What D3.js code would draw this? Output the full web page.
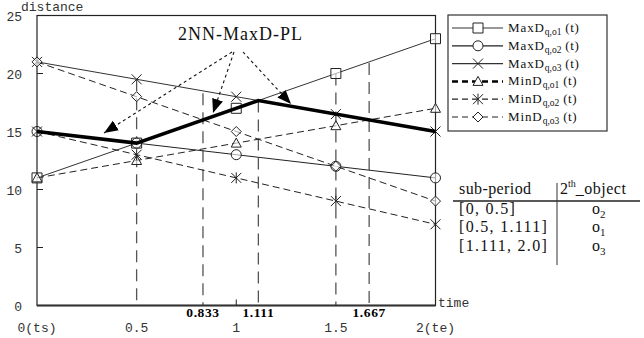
<!doctype html>
<meta charset="utf-8" />
<style>
  body { margin: 0; background: #fff; }
  text { font-family: "Liberation Serif", "Times New Roman", serif; }
  .mono { font-family: "Liberation Mono", "DejaVu Sans Mono", monospace; }
</style>
<svg></svg>

<script src="https://cdn.jsdelivr.net/npm/d3@7"></script>

<script>
    // data
    var times = [0, 0.5, 1, 1.5, 2];
    var maxO1 = [11, 14, 17, 20, 23];
    var maxO2 = [15, 14, 13, 12, 11];
    var maxO3 = [21, 19.5, 18, 16.5, 15];
    var minO1 = [11, 12.5, 14, 15.5, 17];
    var minO2 = [15, 13, 11, 9, 7];
    var minO3 = [21, 18, 15, 12, 9];

    var plTimes = [0, 0.5, 1.111, 2];
    var plValues = [15, 14, 17.67, 15];

    var splitTimes = [0.5, 0.833, 1.111, 1.5, 1.667];
    var splitTops = [19.5, 18.3, 17.67, 20, 20.9];
    var splitLabels = ['', '0.833', '1.111', '', '1.667'];

    var yTicks = [0, 5, 10, 15, 20, 25];
    var xTicks = [0, 0.5, 1, 1.5, 2];
    var xTickLabels = ['0(ts)', '0.5', '1', '1.5', '2(te)'];

    var subPeriods = ['[0, 0.5]', '[0.5, 1.111]', '[1.111, 2.0]'];
    var subObjects = ['2', '1', '3'];

    var series = [
        { name: 'MaxD', sub: 'q,o1', vals: maxO1, mark: 'square', dash: null, color: '#333', width: 1 },
        { name: 'MaxD', sub: 'q,o2', vals: maxO2, mark: 'circle', dash: null, color: '#222', width: 1 },
        { name: 'MaxD', sub: 'q,o3', vals: maxO3, mark: 'x', dash: null, color: '#333', width: 1 },
        { name: 'MinD', sub: 'q,o1', vals: minO1, mark: 'triangle', dash: '7,4', color: '#222', width: 1 },
        { name: 'MinD', sub: 'q,o2', vals: minO2, mark: 'star', dash: '7,4', color: '#222', width: 1 },
        { name: 'MinD', sub: 'q,o3', vals: minO3, mark: 'diamond', dash: '7,4', color: '#222', width: 1 }
    ];

    var W = 644, H = 338;
    var svg = d3.select('svg').attr('width', W).attr('height', H);

    var x = d3.scaleLinear().domain([0, 2]).range([37, 435.5]);
    var y = d3.scaleLinear().domain([0, 25]).range([305.5, 15.5]);

    function markPath(kind, s) {
        var p = d3.path();
        if (kind === 'square') {
            p.rect(-s, -s, 2 * s, 2 * s);
        } else if (kind === 'circle') {
            p.moveTo(s, 0); p.arc(0, 0, s, 0, 2 * Math.PI);
        } else if (kind === 'x') {
            p.moveTo(-s, -s); p.lineTo(s, s); p.moveTo(-s, s); p.lineTo(s, -s);
        } else if (kind === 'star') {
            p.moveTo(-s, -s); p.lineTo(s, s); p.moveTo(-s, s); p.lineTo(s, -s);
            p.moveTo(0, -s * 1.1); p.lineTo(0, s * 1.1);
        } else if (kind === 'triangle') {
            p.moveTo(0, -s); p.lineTo(s, s * 0.8); p.lineTo(-s, s * 0.8); p.closePath();
        } else if (kind === 'diamond') {
            p.moveTo(0, -s); p.lineTo(s, 0); p.lineTo(0, s); p.lineTo(-s, 0); p.closePath();
        }
        return p.toString();
    }

    // split lines (vertical dashed)
    svg.append('g').selectAll('line').data(splitTimes).join('line')
        .attr('x1', d => x(d)).attr('x2', d => x(d))
        .attr('y1', (d, i) => y(splitTops[i])).attr('y2', y(0))
        .attr('stroke', '#555').attr('stroke-width', 1.3)
        .attr('stroke-dasharray', '12,7');

    // frame
    svg.append('rect')
        .attr('x', x(0)).attr('y', y(25))
        .attr('width', x(2) - x(0)).attr('height', y(0) - y(25))
        .attr('fill', 'none').attr('stroke', '#222').attr('stroke-width', 1.2);
    svg.append('line')
        .attr('x1', x(0)).attr('x2', x(2)).attr('y1', y(0)).attr('y2', y(0))
        .attr('stroke', '#333').attr('stroke-width', 2);

    // y ticks
    svg.append('g').selectAll('line').data(yTicks.slice(1, 5)).join('line')
        .attr('x1', x(0)).attr('x2', x(0) + 6)
        .attr('y1', d => y(d)).attr('y2', d => y(d))
        .attr('stroke', '#222');
    svg.append('g').selectAll('text').data(yTicks).join('text')
        .attr('class', 'mono')
        .attr('x', 22).attr('y', d => y(d) + 5)
        .attr('text-anchor', 'end').attr('font-size', 13).attr('fill', '#333')
        .text(d => d);
    svg.append('text').attr('class', 'mono')
        .attr('x', 21).attr('y', 11).attr('font-size', 13).attr('fill', '#333')
        .text('distance');

    // x tick at 1
    svg.append('line')
        .attr('x1', x(1)).attr('x2', x(1)).attr('y1', y(0)).attr('y2', y(0) - 6)
        .attr('stroke', '#222');
    svg.append('g').selectAll('text').data(xTicks).join('text')
        .attr('class', 'mono')
        .attr('x', d => x(d)).attr('y', 332)
        .attr('text-anchor', 'middle').attr('font-size', 13).attr('fill', '#333')
        .text((d, i) => xTickLabels[i]);
    svg.append('text').attr('class', 'mono')
        .attr('x', 438).attr('y', 307).attr('font-size', 13).attr('fill', '#333')
        .text('time');
    svg.append('g').selectAll('text').data(splitTimes).join('text')
        .attr('x', d => x(d)).attr('y', 317)
        .attr('text-anchor', 'middle').attr('font-size', 13.5).attr('font-weight', 'bold')
        .attr('letter-spacing', 0.6)
        .text((d, i) => splitLabels[i]);

    // series lines and markers
    var line = d3.line().x((d, i) => x(times[i])).y(d => y(d));
    series.forEach(function (s) {
        svg.append('path')
            .attr('d', line(s.vals))
            .attr('fill', 'none').attr('stroke', s.color).attr('stroke-width', s.width)
            .attr('stroke-dasharray', s.dash);
        svg.append('g').selectAll('path').data(s.vals).join('path')
            .attr('transform', (d, i) => 'translate(' + x(times[i]) + ',' + y(d) + ')')
            .attr('d', markPath(s.mark, 5))
            .attr('fill', 'white').attr('fill-opacity', s.mark === 'x' || s.mark === 'star' ? 0 : 0.6)
            .attr('stroke', '#222').attr('stroke-width', 1);
    });

    // 2NN-MaxD-PL
    svg.append('path')
        .attr('d', d3.line().x((d, i) => x(plTimes[i])).y(d => y(d))(plValues))
        .attr('fill', 'none').attr('stroke', '#000').attr('stroke-width', 3.5)
        .attr('stroke-linejoin', 'miter');

    svg.append('text')
        .attr('x', 178).attr('y', 40).attr('font-size', 18).attr('fill', '#111')
        .attr('textLength', 124)
        .text('2NN-MaxD-PL');

    // dotted arrows
    var defs = svg.append('defs');
    defs.append('marker').attr('id', 'ah')
        .attr('viewBox', '0 0 10 10').attr('refX', 10).attr('refY', 5)
        .attr('markerWidth', 14).attr('markerHeight', 14)
        .attr('markerUnits', 'userSpaceOnUse').attr('orient', 'auto')
        .append('path').attr('d', 'M0,1L10,5L0,9Z').attr('fill', '#000');
    var arrows = [[232, 52, 104, 133], [234, 52, 213, 113], [243, 52, 291, 104]];
    svg.append('g').selectAll('line').data(arrows).join('line')
        .attr('x1', d => d[0]).attr('y1', d => d[1]).attr('x2', d => d[2]).attr('y2', d => d[3])
        .attr('stroke', '#111').attr('stroke-width', 1.1).attr('stroke-dasharray', '3,3')
        .attr('marker-end', 'url(#ah)');

    // legend
    var lg = svg.append('g');
    lg.append('rect').attr('x', 448).attr('y', 15).attr('width', 159).attr('height', 116)
        .attr('fill', 'white').attr('stroke', '#333').attr('stroke-width', 1.2);
    series.forEach(function (s, i) {
        var ly = 28 + i * 17.8;
        lg.append('line').attr('x1', 452).attr('x2', 503).attr('y1', ly).attr('y2', ly)
            .attr('stroke', i === 3 ? '#000' : s.color).attr('stroke-width', i === 3 ? 2.5 : 1.2)
            .attr('stroke-dasharray', s.dash ? '6,4' : null);
        lg.append('path').attr('transform', 'translate(478,' + ly + ')')
            .attr('d', markPath(s.mark, 5))
            .attr('fill', 'white').attr('fill-opacity', s.mark === 'x' || s.mark === 'star' ? 0 : 1)
            .attr('stroke', '#222').attr('stroke-width', 1);
        var t = lg.append('text').attr('x', 508).attr('y', ly + 4).attr('font-size', 13).attr('fill', '#111');
        t.append('tspan').attr('letter-spacing', 0.9).text(s.name);
        t.append('tspan').attr('font-size', 9.5).attr('dy', 3).text(s.sub);
        t.append('tspan').attr('dy', -3).attr('letter-spacing', 0.6).text(' (t)');
    });

    // sub-period table
    var tb = svg.append('g').attr('fill', '#111');
    tb.append('text').attr('x', 459).attr('y', 194).attr('font-size', 16)
        .attr('letter-spacing', 0.4).text('sub-period');
    var h2 = tb.append('text').attr('x', 560).attr('y', 194).attr('font-size', 16);
    h2.append('tspan').text('2');
    h2.append('tspan').attr('font-size', 10).attr('dy', -7).text('th');
    h2.append('tspan').attr('dy', 7).attr('letter-spacing', 0.5).text('_object');
    tb.append('line').attr('x1', 453).attr('x2', 640).attr('y1', 201).attr('y2', 201)
        .attr('stroke', '#222').attr('stroke-width', 1.3);
    tb.append('line').attr('x1', 557).attr('x2', 557).attr('y1', 183).attr('y2', 265)
        .attr('stroke', '#333').attr('stroke-width', 1);
    tb.selectAll('text.per').data(subPeriods).join('text').attr('class', 'per')
        .attr('x', 459).attr('y', (d, i) => 213.5 + i * 18.5).attr('font-size', 16)
        .attr('letter-spacing', 1.3)
        .text(d => d);
    subObjects.forEach(function (o, i) {
        var t = tb.append('text').attr('x', 592).attr('y', 213.5 + i * 18.5).attr('font-size', 16);
        t.append('tspan').text('o');
        t.append('tspan').attr('font-size', 11).attr('dy', 4).text(o);
    });
</script>
